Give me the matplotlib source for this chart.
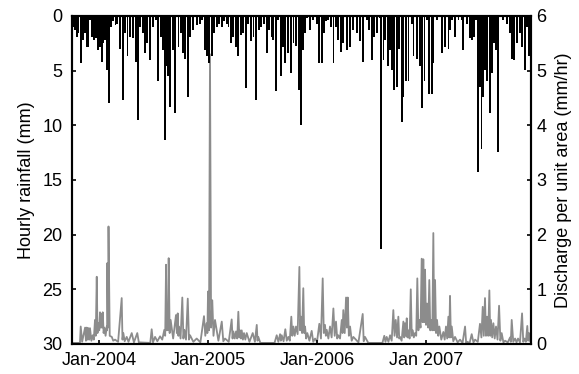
import numpy as np
import matplotlib
matplotlib.use("Agg")
import matplotlib.pyplot as plt

plt.rcParams['font.family'] = ['Liberation Sans', 'DejaVu Sans']

# ---- data (decimal years) ----
tick_years = [2004, 2005, 2006, 2007]
tick_labels = ['Jan-2004', 'Jan-2005', 'Jan-2006', 'Jan 2007']

rain_year = [
    2003.764, 2003.780, 2003.795, 2003.810, 2003.832, 2003.850, 2003.869, 2003.887, 2003.902, 2003.917,
    2003.936, 2003.954, 2003.972, 2003.991, 2004.009, 2004.025, 2004.040, 2004.058, 2004.076, 2004.092,
    2004.110, 2004.131, 2004.150, 2004.168, 2004.193, 2004.217, 2004.239, 2004.260, 2004.284, 2004.309,
    2004.339, 2004.355, 2004.376, 2004.401, 2004.422, 2004.443, 2004.468, 2004.493, 2004.523, 2004.544,
    2004.566, 2004.584, 2004.603, 2004.615, 2004.633, 2004.651, 2004.676, 2004.697, 2004.728, 2004.752,
    2004.773, 2004.789, 2004.814, 2004.835, 2004.865, 2004.896, 2004.927, 2004.942, 2004.972, 2004.988,
    2005.012, 2005.034, 2005.055, 2005.080, 2005.104, 2005.126, 2005.147, 2005.172, 2005.187, 2005.208,
    2005.232, 2005.254, 2005.272, 2005.300, 2005.324, 2005.349, 2005.370, 2005.394, 2005.416, 2005.440,
    2005.465, 2005.489, 2005.514, 2005.538, 2005.560, 2005.584, 2005.599, 2005.624, 2005.645, 2005.667,
    2005.691, 2005.706, 2005.737, 2005.759, 2005.783, 2005.807, 2005.835, 2005.853, 2005.874, 2005.893,
    2005.911, 2005.936, 2005.966, 2005.997, 2006.021, 2006.043, 2006.064, 2006.083, 2006.104, 2006.128,
    2006.150, 2006.174, 2006.195, 2006.220, 2006.241, 2006.272, 2006.303, 2006.333, 2006.364, 2006.394,
    2006.425, 2006.456, 2006.477, 2006.502, 2006.523, 2006.548, 2006.572, 2006.585, 2006.609, 2006.624,
    2006.649, 2006.670, 2006.691, 2006.709, 2006.731, 2006.755, 2006.777, 2006.792, 2006.817, 2006.838,
    2006.869, 2006.884, 2006.915, 2006.945, 2006.966, 2006.985, 2007.006, 2007.030, 2007.052, 2007.067,
    2007.098, 2007.128, 2007.144, 2007.174, 2007.205, 2007.220, 2007.241, 2007.266, 2007.297, 2007.328,
    2007.342, 2007.373, 2007.404, 2007.419, 2007.440, 2007.459, 2007.480, 2007.495, 2007.509, 2007.520,
    2007.541, 2007.562, 2007.587, 2007.602, 2007.624, 2007.642, 2007.663, 2007.709, 2007.740, 2007.771,
    2007.786, 2007.810, 2007.832, 2007.862, 2007.883, 2007.908, 2007.929, 2007.948,
]
rain_mm = [
    1.0, 1.3, 1.9, 1.6, 4.3, 2.2, 1.6, 2.8, 2.8, 0.4,
    1.9, 2.2, 2.0, 3.1, 2.8, 4.2, 2.5, 2.2, 4.9, 8.0,
    1.0, 0.5, 0.8, 0.7, 3.0, 7.7, 1.6, 3.7, 1.9, 2.0,
    4.2, 9.5, 1.0, 1.6, 3.4, 2.5, 4.0, 1.0, 0.4, 5.9,
    1.9, 3.1, 11.3, 4.6, 5.5, 8.3, 3.1, 8.9, 2.8, 1.6,
    3.4, 3.9, 7.4, 1.9, 1.3, 0.8, 0.7, 0.4, 3.1, 3.7,
    4.3, 3.7, 1.6, 1.0, 0.7, 1.0, 0.5, 0.7, 1.0, 2.5,
    1.9, 2.8, 3.7, 1.7, 1.6, 6.6, 0.7, 2.3, 1.9, 7.7,
    1.3, 1.0, 0.7, 3.4, 1.3, 1.9, 2.2, 6.9, 0.4, 5.5,
    2.8, 4.3, 3.4, 5.2, 2.5, 2.7, 6.8, 10.0, 3.1, 1.6,
    0.2, 1.3, 0.4, 0.7, 4.3, 4.3, 1.6, 0.5, 0.4, 1.0,
    4.3, 1.0, 2.2, 3.3, 2.5, 3.1, 2.8, 1.3, 1.6, 2.3,
    4.2, 0.4, 1.3, 4.0, 1.9, 1.6, 0.2, 21.3, 4.0, 2.2,
    4.6, 3.1, 4.9, 6.8, 6.5, 3.0, 9.7, 7.4, 5.9, 5.9,
    0.7, 3.7, 3.9, 4.6, 8.4, 5.9, 0.4, 7.1, 7.1, 4.3,
    0.4, 0.1, 3.4, 2.8, 3.0, 1.3, 0.4, 1.9, 0.4, 0.4,
    3.1, 0.7, 2.0, 2.2, 1.9, 0.4, 14.3, 6.5, 12.2, 7.4,
    4.9, 5.9, 8.9, 5.2, 2.5, 3.1, 12.4, 0.4, 0.7, 1.6,
    3.9, 4.0, 2.5, 1.6, 2.8, 4.9, 1.0, 3.7,
]

q_year = [
    2003.755, 2003.825, 2003.832, 2003.845, 2003.872, 2003.880, 2003.887, 2003.895, 2003.902, 2003.910,
    2003.917, 2003.930, 2003.942, 2003.952, 2003.963, 2003.970, 2003.979, 2003.986, 2003.994, 2004.002,
    2004.009, 2004.015, 2004.021, 2004.028, 2004.034, 2004.042, 2004.049, 2004.060, 2004.071, 2004.074,
    2004.076, 2004.082, 2004.087, 2004.098, 2004.117, 2004.130, 2004.147, 2004.175, 2004.208, 2004.215,
    2004.223, 2004.235, 2004.254, 2004.270, 2004.300, 2004.320, 2004.351, 2004.365, 2004.470, 2004.483,
    2004.495, 2004.514, 2004.535, 2004.560, 2004.580, 2004.599, 2004.607, 2004.615, 2004.621, 2004.627,
    2004.633, 2004.639, 2004.648, 2004.657, 2004.680, 2004.706, 2004.714, 2004.722, 2004.728, 2004.734,
    2004.748, 2004.764, 2004.774, 2004.783, 2004.798, 2004.814, 2004.825, 2004.835, 2004.865, 2004.896,
    2004.930, 2004.963, 2004.975, 2004.988, 2004.994, 2005.000, 2005.009, 2005.018, 2005.028, 2005.039,
    2005.050, 2005.064, 2005.095, 2005.126, 2005.140, 2005.156, 2005.190, 2005.217, 2005.225, 2005.232,
    2005.245, 2005.257, 2005.268, 2005.278, 2005.287, 2005.294, 2005.302, 2005.309, 2005.320, 2005.330,
    2005.342, 2005.355, 2005.380, 2005.410, 2005.430, 2005.447, 2005.454, 2005.461, 2005.480, 2005.610,
    2005.630, 2005.645, 2005.661, 2005.668, 2005.676, 2005.693, 2005.709, 2005.722, 2005.737, 2005.750,
    2005.764, 2005.773, 2005.783, 2005.795, 2005.807, 2005.822, 2005.838, 2005.845, 2005.853, 2005.863,
    2005.874, 2005.882, 2005.890, 2005.900, 2005.911, 2005.930, 2005.951, 2005.965, 2005.982, 2006.000,
    2006.021, 2006.036, 2006.052, 2006.062, 2006.073, 2006.081, 2006.089, 2006.104, 2006.119, 2006.134,
    2006.150, 2006.162, 2006.174, 2006.185, 2006.195, 2006.211, 2006.227, 2006.234, 2006.241, 2006.254,
    2006.266, 2006.274, 2006.282, 2006.292, 2006.303, 2006.318, 2006.333, 2006.380, 2006.419, 2006.428,
    2006.440, 2006.470, 2006.600, 2006.617, 2006.628, 2006.639, 2006.655, 2006.670, 2006.685, 2006.700,
    2006.711, 2006.722, 2006.734, 2006.746, 2006.754, 2006.761, 2006.776, 2006.792, 2006.800, 2006.807,
    2006.815, 2006.823, 2006.830, 2006.838, 2006.849, 2006.860, 2006.869, 2006.878, 2006.888, 2006.899,
    2006.910, 2006.920, 2006.930, 2006.939, 2006.950, 2006.960, 2006.968, 2006.975, 2006.983, 2006.991,
    2007.000, 2007.009, 2007.020, 2007.030, 2007.039, 2007.048, 2007.058, 2007.067, 2007.075, 2007.083,
    2007.092, 2007.101, 2007.112, 2007.122, 2007.140, 2007.159, 2007.171, 2007.183, 2007.194, 2007.205,
    2007.213, 2007.220, 2007.228, 2007.236, 2007.250, 2007.266, 2007.290, 2007.312, 2007.335, 2007.358,
    2007.368, 2007.379, 2007.400, 2007.419, 2007.435, 2007.450, 2007.475, 2007.495, 2007.508, 2007.520,
    2007.530, 2007.541, 2007.550, 2007.560, 2007.570, 2007.581, 2007.589, 2007.596, 2007.607, 2007.618,
    2007.630, 2007.642, 2007.656, 2007.670, 2007.682, 2007.694, 2007.710, 2007.725, 2007.750, 2007.771,
    2007.778, 2007.786, 2007.800, 2007.817, 2007.830, 2007.844, 2007.862, 2007.881, 2007.892, 2007.904,
    2007.916, 2007.929, 2007.937, 2007.945, 2007.955,
]
q_val = [
    0.02, 0.02, 0.32, 0.04, 0.30, 0.06, 0.30, 0.08, 0.29, 0.08,
    0.29, 0.06, 0.16, 0.08, 0.44, 0.15, 1.23, 0.20, 0.38, 0.25,
    0.58, 0.30, 0.55, 0.30, 0.58, 0.20, 0.30, 0.15, 0.32, 0.25,
    1.48, 0.30, 2.15, 0.15, 0.13, 0.06, 0.08, 0.04, 0.84, 0.08,
    0.20, 0.05, 0.13, 0.04, 0.20, 0.03, 0.20, 0.03, 0.02, 0.27,
    0.03, 0.13, 0.05, 0.14, 0.08, 0.26, 0.15, 1.45, 0.25, 0.50,
    0.25, 1.57, 0.20, 0.44, 0.10, 0.53, 0.20, 0.56, 0.15, 0.32,
    0.10, 0.85, 0.10, 0.26, 0.08, 0.83, 0.08, 0.16, 0.04, 0.10,
    0.03, 0.51, 0.15, 0.38, 0.20, 0.96, 0.25, 5.30, 0.30, 0.80,
    0.15, 0.44, 0.06, 0.41, 0.05, 0.10, 0.04, 0.45, 0.10, 0.23,
    0.10, 0.23, 0.10, 0.59, 0.12, 0.25, 0.10, 0.25, 0.08, 0.20,
    0.08, 0.20, 0.04, 0.20, 0.04, 0.35, 0.06, 0.13, 0.02, 0.02,
    0.16, 0.04, 0.18, 0.06, 0.16, 0.05, 0.27, 0.06, 0.13, 0.06,
    0.50, 0.15, 0.32, 0.15, 0.32, 0.18, 1.41, 0.25, 0.50, 0.20,
    1.02, 0.20, 0.32, 0.10, 0.20, 0.06, 0.24, 0.04, 0.10, 0.04,
    0.37, 0.10, 1.20, 0.20, 0.35, 0.15, 0.26, 0.10, 0.32, 0.12,
    0.65, 0.15, 0.41, 0.10, 0.16, 0.10, 0.44, 0.20, 0.62, 0.20,
    0.85, 0.30, 0.85, 0.15, 0.32, 0.06, 0.13, 0.03, 0.55, 0.05,
    0.13, 0.02, 0.02, 0.15, 0.04, 0.13, 0.04, 0.16, 0.06, 0.62,
    0.15, 0.44, 0.12, 0.50, 0.10, 0.13, 0.06, 0.41, 0.12, 0.38,
    0.15, 0.47, 0.12, 0.25, 0.10, 1.00, 0.15, 0.25, 0.12, 0.20,
    0.15, 1.20, 0.25, 0.44, 0.30, 1.56, 0.40, 1.55, 0.40, 1.36,
    0.35, 0.74, 0.30, 1.17, 0.25, 0.44, 0.25, 2.03, 0.25, 1.17,
    0.20, 0.44, 0.15, 0.32, 0.08, 0.22, 0.08, 0.32, 0.10, 0.50,
    0.12, 0.88, 0.12, 0.32, 0.05, 0.13, 0.03, 0.08, 0.02, 0.32,
    0.02, 0.04, 0.02, 0.18, 0.03, 0.08, 0.04, 0.37, 0.12, 0.68,
    0.15, 0.84, 0.15, 0.50, 0.15, 0.98, 0.15, 0.44, 0.12, 0.38,
    0.10, 0.32, 0.08, 0.70, 0.06, 0.20, 0.03, 0.06, 0.03, 0.12,
    0.04, 0.44, 0.04, 0.10, 0.03, 0.10, 0.03, 0.56, 0.04, 0.10,
    0.04, 0.33, 0.06, 0.20, 0.05,
]

x_start, x_end = 2003.752, 2007.963

# ---- figure ----
fig = plt.figure(figsize=(5.79, 3.74), dpi=100)
ax = fig.add_axes([72 / 579, 30 / 374, (531 - 72) / 579, (344 - 16) / 374])
ax2 = ax.twinx()

ax2.plot(q_year, q_val, color='#8c8c8c', lw=1.3)
ax2.set_ylim(0, 6)
ax2.set_yticks([0, 1, 2, 3, 4, 5, 6])

ax.bar(rain_year, rain_mm, width=0.016, color='black', linewidth=0,
       antialiased=False)
ax.set_ylim(30, 0)
ax.set_yticks([0, 5, 10, 15, 20, 25, 30])
ax.set_xlim(x_start, x_end)
ax.set_xticks(tick_years)
ax.set_xticklabels(tick_labels)

ax.set_zorder(ax2.get_zorder() + 1)
ax.patch.set_visible(False)

fs = 13
for a in (ax, ax2):
    a.tick_params(direction='in', length=3, width=1.2, labelsize=fs)
    for s in a.spines.values():
        s.set_linewidth(1.5)
ax.tick_params(axis='y', pad=7)
ax.tick_params(axis='x', pad=6)
ax2.tick_params(axis='y', pad=4)
ax.set_ylabel('Hourly rainfall (mm)', fontsize=fs, labelpad=5)
ax2.set_ylabel('Discharge per unit area (mm/hr)', fontsize=fs, labelpad=6)

fig.savefig('out.png', dpi=100)
